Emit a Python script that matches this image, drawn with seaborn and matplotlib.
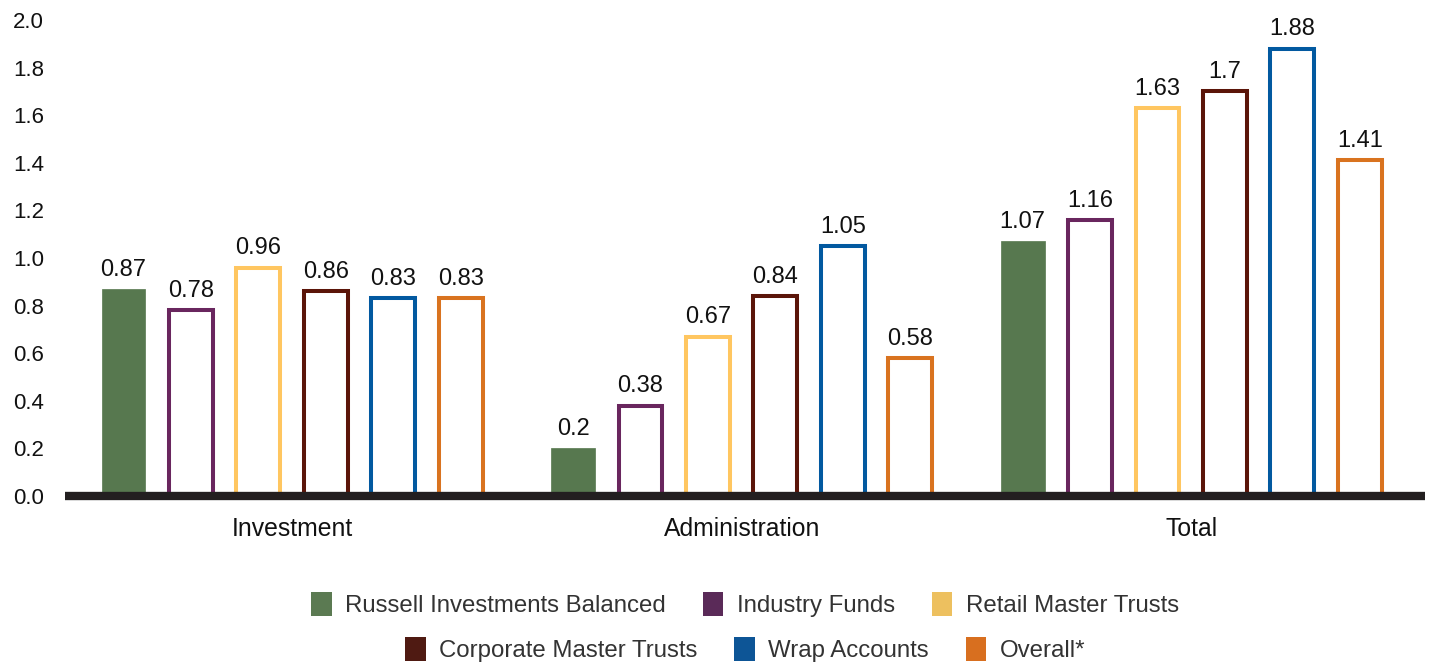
import numpy as np
import pandas as pd
import seaborn as sns
import matplotlib.pyplot as plt
from matplotlib.patches import Patch

# ----------------------
# Data
# ----------------------
categories = ["Investment", "Administration", "Total"]
series = ["Russell Investments Balanced", "Industry Funds", "Retail Master Trusts",
          "Corporate Master Trusts", "Wrap Accounts", "Overall*"]
russell = [0.87, 0.2, 1.07]
industry = [0.78, 0.38, 1.16]
retail = [0.96, 0.67, 1.63]
corporate = [0.86, 0.84, 1.7]
wrap = [0.83, 1.05, 1.88]
overall = [0.83, 0.58, 1.41]
yticks = [0.0, 0.2, 0.4, 0.6, 0.8, 1.0, 1.2, 1.4, 1.6, 1.8, 2.0]

bar_colors = ["#57784F", "#69265E", "#FFC660", "#5B1509", "#0259A0", "#D9731F"]
legend_colors = ["#5B7A52", "#5A2A58", "#EDC05F", "#4F1A12", "#0D5596", "#D86F1F"]

rows = []
for name, vals in zip(series, [russell, industry, retail, corporate, wrap, overall]):
    for cat, v in zip(categories, vals):
        rows.append({"category": cat, "series": name, "value": v})
df = pd.DataFrame(rows)

# ----------------------
# Plot
# ----------------------
sns.set_theme(style="white")
plt.rcParams["font.family"] = ["Liberation Sans", "DejaVu Sans"]

fig = plt.figure(figsize=(14.3, 6.62), dpi=100)
ax = fig.add_axes([0.0455, 0.2508, 0.951, 0.7190])

sns.barplot(data=df, x="category", y="value", hue="series", hue_order=series,
            order=categories, palette=bar_colors, saturation=1,
            width=0.9, gap=0.35, legend=False, ax=ax)

for i, container in enumerate(ax.containers):
    for bar in container:
        if i > 0:
            bar.set_facecolor("white")
            bar.set_edgecolor(bar_colors[i])
            bar.set_linewidth(2.9)
        else:
            bar.set_edgecolor(bar_colors[i])
            bar.set_linewidth(0.5)
    ax.bar_label(container, fmt="{:g}", padding=6, fontsize=17, color="#111111")

ax.axhline(0, color="#231F20", lw=6, zorder=5, clip_on=False, solid_capstyle="butt")

ax.set_xlim(-0.505, 2.52)
ax.set_ylim(0, 2.0)
ax.set_yticks(yticks)
ax.set_yticklabels([f"{t:.1f}" for t in yticks])
ax.tick_params(axis="y", length=0, labelsize=16, pad=15, labelcolor="#111111")
ax.tick_params(axis="x", length=0, labelsize=17.8, pad=15, labelcolor="#111111")
ax.set_xlabel("")
ax.set_ylabel("")
sns.despine(ax=ax, left=True, bottom=True)

# two centred legend rows
handles = [Patch(facecolor=c, edgecolor="none") for c in legend_colors]
leg_kw = dict(loc="center", ncol=3, frameon=False, prop={"size": 17.3},
              handlelength=0.85, handleheight=1.15, handletextpad=0.55,
              columnspacing=1.55, labelcolor="#333333")
fig.legend(handles[:3], series[:3], bbox_to_anchor=(0.521, 0.087), **leg_kw)
fig.legend(handles[3:], series[3:], bbox_to_anchor=(0.521, 0.019), **leg_kw)

fig.savefig("out.png", dpi=100)
